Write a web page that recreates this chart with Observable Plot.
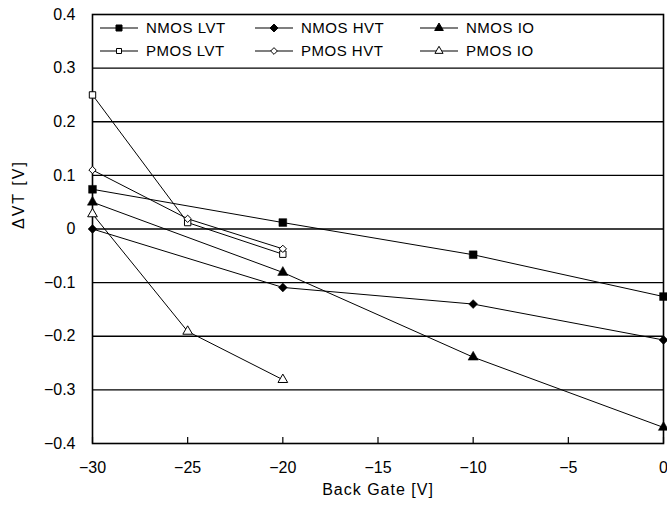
<!DOCTYPE html>
<html><head><meta charset="utf-8">
<script src="https://cdn.jsdelivr.net/npm/d3@7"></script>
<script src="https://cdn.jsdelivr.net/npm/@observablehq/plot@0.6"></script>
<style>body{margin:0;background:#fff}#chart svg{display:block}</style>
</head><body><div id="chart"></div>
<script>
// ---- data ----
const nmosGate = [-30, -20, -10, 0];
const nmosLVT = [0.074, 0.012, -0.048, -0.126];
const nmosHVT = [0.000, -0.109, -0.140, -0.207];
const nmosIO  = [0.050, -0.081, -0.239, -0.370];
const pmosGate = [-30, -25, -20];
const pmosLVT = [0.250, 0.012, -0.047];
const pmosHVT = [0.110, 0.019, -0.037];
const pmosIO  = [0.028, -0.191, -0.281];
const seriesNames = ["NMOS LVT", "NMOS HVT", "NMOS IO", "PMOS LVT", "PMOS HVT", "PMOS IO"];
const xTicks = [-30, -25, -20, -15, -10, -5, 0];
const yTicks = [-0.4, -0.3, -0.2, -0.1, 0, 0.1, 0.2, 0.3, 0.4];
const gridLines = [-0.3, -0.2, -0.1, 0, 0.1, 0.2, 0.3];
const xLabel = "Back Gate [V]";
const yLabel = "ΔVT [V]";

// ---- series table ----
const seriesData = [
  [nmosGate, nmosLVT], [nmosGate, nmosHVT], [nmosGate, nmosIO],
  [pmosGate, pmosLVT], [pmosGate, pmosHVT], [pmosGate, pmosIO]
];
const styles = [
  {symbol: "square", open: false, r: 4.4, ls: 20},
  {symbol: "diamond2", open: false, r: 4.0, ls: 22},
  {symbol: "triangle", open: false, r: 3.8, ls: 18},
  {symbol: "square", open: true, r: 3.6, ls: 14},
  {symbol: "diamond2", open: true, r: 3.3, ls: 16},
  {symbol: "triangle", open: true, r: 3.6, ls: 16}
];
const series = seriesNames.map((name, i) => ({
  name,
  ...styles[i],
  rows: seriesData[i][0].map((x, j) => ({x, y: seriesData[i][1][j]}))
}));

const font = "'Liberation Sans', Arial, sans-serif";
const fmt = d => d === 0 ? "0" : (d < 0 ? "\u2212" : "") + Math.abs(d).toFixed(1);

const marks = [
  Plot.ruleY(gridLines, {stroke: "black", strokeWidth: 1.3}),
  Plot.ruleX(xTicks, {stroke: "black", strokeWidth: 1.2, insetTop: 423}),
  Plot.frame({stroke: "black", strokeWidth: 1.6}),
  Plot.axisY({ticks: yTicks, tickSize: 0, tickPadding: 17, tickFormat: fmt, label: null}),
  Plot.axisX({ticks: xTicks, tickSize: 0, tickPadding: 18, tickFormat: d => d === 0 ? "0" : "\u2212" + Math.abs(d), label: null}),
  Plot.text([xLabel], {frameAnchor: "bottom", dy: 51, text: d => d, fontSize: 16, style: "letter-spacing:1px"}),
  Plot.text([yLabel], {frameAnchor: "left", dx: -74, rotate: -90, text: d => d, fontSize: 16})
];
for (const s of series) {
  marks.push(Plot.line(s.rows, {x: "x", y: "y", stroke: "black", strokeWidth: 1}));
}
for (const s of series) {
  marks.push(Plot.dot(s.rows, {
    x: "x", y: "y", symbol: s.symbol, r: s.r,
    fill: s.open ? "white" : "black",
    stroke: "black", strokeWidth: s.open ? 1 : 0.5
  }));
}

const chart = Plot.plot({
  width: 667, height: 508,
  marginLeft: 92, marginRight: 4, marginTop: 14, marginBottom: 65,
  x: {domain: [-30, 0]},
  y: {domain: [-0.4, 0.4]},
  style: {fontFamily: font, fontSize: "16px", color: "black", background: "white"},
  marks
});
document.getElementById("chart").appendChild(chart);

// letter spacing on axis labels
d3.select(chart).selectAll("text").filter(function() { return this.textContent === xLabel; })
  .style("letter-spacing", "1px");
d3.select(chart).selectAll("text").filter(function() { return this.textContent === yLabel; })
  .style("letter-spacing", "2px");

// ---- legend (inside plot, top band) ----
const svg = d3.select(chart);
const colX = [100, 255, 420];
const rowY = [28, 51];
const g = svg.append("g").attr("font-family", font).attr("font-size", 15)
  .attr("text-anchor", "start");
const symMap = {square: d3.symbolSquare, diamond2: d3.symbolDiamond2, triangle: d3.symbolTriangle};
series.forEach((s, i) => {
  const cx = colX[i % 3], cy = rowY[Math.floor(i / 3)];
  g.append("line").attr("x1", cx).attr("x2", cx + 38).attr("y1", cy).attr("y2", cy)
    .attr("stroke", "black").attr("stroke-width", 1.2);
  g.append("path").attr("d", d3.symbol(symMap[s.symbol], s.ls * 1.8)())
    .attr("transform", `translate(${cx + 19},${cy})`)
    .attr("fill", s.open ? "white" : "black").attr("stroke", "black").attr("stroke-width", 1);
  g.append("text").attr("x", cx + 46).attr("y", cy).attr("dy", "0.35em")
    .attr("text-anchor", "start").style("letter-spacing", "0.5px").text(s.name);
});
</script>
</body></html>
